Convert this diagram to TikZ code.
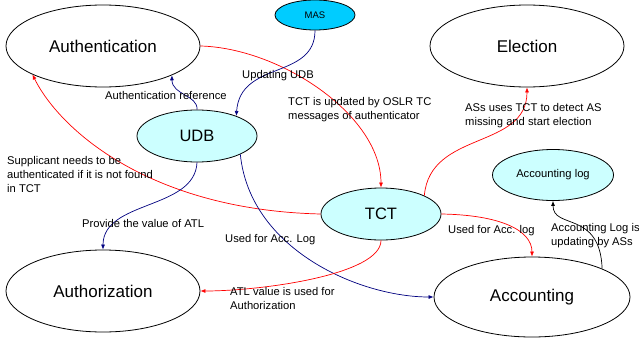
\documentclass[tikz,border=0pt]{standalone}
\usepackage{fontspec}
\setmainfont{Liberation Sans}
\usetikzlibrary{shapes.geometric,arrows.meta}
\definecolor{lightcyan}{HTML}{CCFFFF}
\definecolor{mascyan}{HTML}{00CCFF}
\definecolor{navyblue}{HTML}{000080}
\tikzset{
  bigell/.style={ellipse,draw=black,line width=0.8pt,inner sep=0pt,minimum width=194pt,minimum height=82pt,font=\fontsize{17}{20}\selectfont},
  cyell/.style={ellipse,draw=black,line width=0.8pt,fill=lightcyan,inner sep=0pt,minimum width=120pt,minimum height=52pt,font=\fontsize{16.5}{20}\selectfont},
  lbl/.style={anchor=west,align=left,inner sep=0pt,font=\fontsize{11.2}{14}\selectfont},
  redarr/.style={draw=red,line width=0.7pt,-{Latex[length=5pt,width=4pt]}},
  bluearr/.style={draw=navyblue,line width=0.7pt,-{Latex[length=5pt,width=4pt]}},
  blackarr/.style={draw=black,line width=0.7pt,-{Latex[length=5pt,width=4pt]}}
}
\begin{document}
\begin{tikzpicture}[x=1pt,y=-1pt]
\useasboundingbox (0,0) rectangle (639,340);
\fill[white] (0,0) rectangle (639,340);
% nodes
\node[bigell] (auth) at (103,46) {Authentication};
\node[bigell] (elec) at (527,46) {Election};
\node[bigell] (authz) at (103,291) {Authorization};
\node[bigell,minimum width=196pt,minimum height=80pt] (acc) at (532,297) {Accounting};
\node[ellipse,draw=black,line width=0.8pt,fill=mascyan,inner sep=0pt,minimum width=80pt,minimum height=30pt,font=\fontsize{9.5}{11}\selectfont] (mas) at (315,15) {MAS};
\node[cyell] (udb) at (197,136) {UDB};
\node[cyell] (tct) at (381,214) {TCT};
\node[cyell,minimum width=121pt,minimum height=51pt,font=\fontsize{11.2}{14}\selectfont] (alog) at (553,175) {Accounting log};
% edges
\draw[redarr] (auth.east) .. controls (280,48) and (381,115) .. (tct.north);
\draw[bluearr] (mas.south) .. controls (315,80) and (240,60) .. (udb.27);
\draw[bluearr] (udb.north) .. controls (198,95) and (172,95) .. (auth.-23);
\draw[redarr] (tct.west) .. controls (150,210) and (60,130) .. (auth.202);
\draw[bluearr] (udb.south) .. controls (195,210) and (103,200) .. (authz.north);
\draw[bluearr] (udb.-23) .. controls (250,250) and (360,297) .. (acc.west);
\draw[redarr] (tct.south) .. controls (381,275) and (260,291) .. (authz.east);
\draw[redarr] (tct.23) .. controls (430,130) and (527,150) .. (elec.south);
\draw[redarr] (tct.east) .. controls (500,215) and (532,230) .. (acc.north);
\draw[blackarr] (acc.22) .. controls (600,210) and (553,230) .. (alog.south);
% labels
\node[lbl] (l1) at (288,110) {TCT is updated by OSLR TC\\messages of authenticator};
\node[lbl] (l2) at (242,76) {Updating UDB};
\node[lbl] (l3) at (105,95) {Authentication reference};
\node[lbl] (l4) at (7,174) {Supplicant needs to be\\authenticated if it is not found\\in TCT};
\node[lbl] (l5) at (82,223) {Provide the value of ATL};
\node[lbl] (l6) at (225,240) {Used for Acc. Log};
\node[lbl] (l7) at (230,298.5) {ATL value is used for\\Authorization};
\node[lbl] (l8) at (465,116) {ASs uses TCT to detect AS\\missing and start election};
\node[lbl] (l9) at (448,231) {Used for Acc. log};
\node[lbl] (l10) at (551,236) {Accounting Log is\\updating by ASs};
\end{tikzpicture}
\end{document}
